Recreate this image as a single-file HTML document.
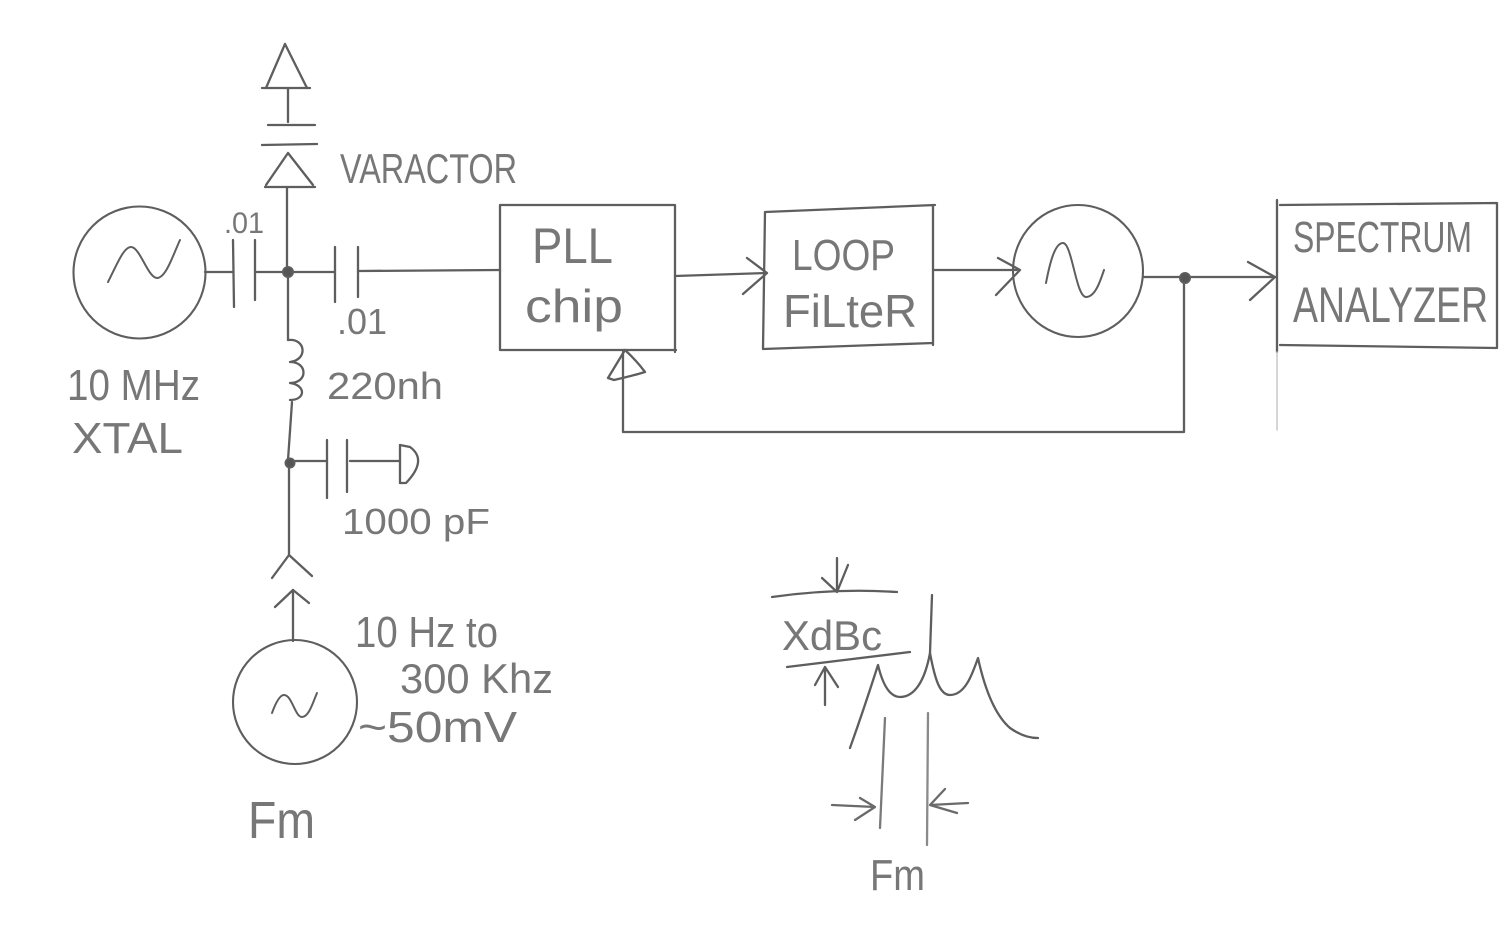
<!DOCTYPE html>
<html>
<head>
<meta charset="utf-8">
<style>
html,body{margin:0;padding:0;background:#fff;}
svg{display:block;}
text{font-family:"Liberation Sans","DejaVu Sans",sans-serif;fill:#777;}
</style>
</head>
<body>
<svg width="1509" height="931" viewBox="0 0 1509 931" xmlns="http://www.w3.org/2000/svg">
<rect width="1509" height="931" fill="#fff"/>
<g fill="none" stroke="#5e5e5e" stroke-width="2.3" stroke-linecap="round" stroke-linejoin="round">
  <!-- Top varactor -->
  <path d="M285,44 L266,88 M285,44 L307,88"/>
  <path d="M262,88 L310,88"/>
  <path d="M288,88 L288,122"/>
  <path d="M268,125 L315,125"/>
  <path d="M262,145 L317,144"/>
  <path d="M288,153 L266,185 M288,153 L313,185"/>
  <path d="M265,187 L315,187"/>
  <path d="M287,187 L287,268"/>

  <!-- XTAL oscillator -->
  <circle cx="139.5" cy="272.5" r="66" stroke-width="2.1"/>
  <path d="M108,282 C118,262 124,247 131,247 C140,247 148,278 157,278 C166,278 173,255 180,240" stroke-width="2"/>

  <!-- left coupling cap -->
  <path d="M205,272 L233,272"/>
  <path d="M233,240 L234,307"/>
  <path d="M255,240 L255,300"/>
  <path d="M255,272 L284,272"/>
  <circle cx="288" cy="272" r="5" fill="#555" stroke-width="2"/>

  <!-- right coupling cap -->
  <path d="M292,272 L335,272"/>
  <path d="M335,247 L335,302"/>
  <path d="M358,247 L358,297"/>
  <path d="M358,271 L500,270"/>

  <!-- inductor -->
  <path d="M288,277 L288,340"/>
  <path d="M288,340 C306,338 308,360 290,362 C308,362 308,383 290,383 C306,385 306,400 290,400"/>
  <path d="M292,402 L288,460"/>
  <circle cx="290" cy="463" r="4.5" fill="#555" stroke-width="2"/>

  <!-- 1000pF cap to ground -->
  <path d="M294,461 L327,461"/>
  <path d="M327,440 L327,498"/>
  <path d="M347,440 L347,492"/>
  <path d="M350,461 L400,461"/>
  <path d="M400,445 L400,483"/>
  <path d="M400,445 L410,447 Q428,460 406,483 L400,483"/>

  <!-- wire down to connector -->
  <path d="M289,468 L289,555"/>
  <path d="M289,555 L272,578 M289,555 L312,576"/>

  <!-- Fm source -->
  <path d="M293,590 L293,641"/>
  <path d="M293,590 L275,607 M293,590 L309,603"/>
  <circle cx="295" cy="702" r="62" stroke-width="2.1"/>
  <path d="M272,713 C276,702 280,695 284,695 C292,695 295,717 302,717 C309,717 313,702 317,693" stroke-width="2"/>

  <!-- PLL chip box -->
  <path d="M500,205 L675,205 M500,205 L500,350 M500,350 L676,350 M675,205 L675,352"/>

  <!-- PLL -> Loop filter -->
  <path d="M675,276 L766,273"/>
  <path d="M747,258 L767,273 L743,294"/>

  <!-- Loop filter box -->
  <path d="M765,212 L935,205 M765,212 L763,349 M763,349 L933,343 M933,205 L933,345"/>

  <!-- LF -> VCO -->
  <path d="M933,270 L1017,270"/>
  <path d="M998,258 L1020,270 L996,295"/>

  <!-- VCO -->
  <ellipse cx="1078" cy="271" rx="65" ry="66" stroke-width="2.1"/>
  <path d="M1046,283 C1050,262 1055,243 1063,243 C1072,243 1076,297 1086,297 C1095,297 1100,282 1104,270" stroke-width="2"/>

  <!-- VCO -> SA -->
  <path d="M1143,277 L1180,277 M1190,277 L1275,277"/>
  <circle cx="1185" cy="278" r="5" fill="#555" stroke-width="2"/>
  <path d="M1248,262 L1275,277 L1250,300"/>

  <!-- Spectrum analyzer box -->
  <path d="M1277,200 L1277,352"/>
  <path d="M1277,352 L1277,430" stroke="#c8c8c8" stroke-width="1.5"/>
  <path d="M1280,205 L1497,203 M1497,203 L1497,348 M1280,345 L1497,348"/>

  <!-- feedback -->
  <path d="M1184,283 L1184,432 L623,432 L623,352"/>
  <path d="M625,350 L608,378 L614,380 Q632,376 645,372 Q636,360 625,350"/>

  <!-- Spectrum sketch -->
  <path d="M772,597 Q835,588 897,592"/>
  <path d="M837,558 L837,592 M822,578 L837,592 L848,565"/>
  <path d="M787,667 L910,652"/>
  <path d="M825,705 L825,667 M815,685 L825,667 L838,687"/>
  <path d="M850,748 C860,720 870,690 878,665 C884,690 892,697 900,697 C915,697 925,680 930,653 C935,680 940,695 950,695 C965,695 972,675 978,658 C985,690 995,715 1010,728 C1020,735 1030,738 1038,738"/>
  <path d="M932,595 L930,653"/>
  <path d="M885,718 L880,828" stroke="#7a7a7a"/>
  <path d="M928,713 L927,845" stroke="#8a8a8a"/>
  <path d="M832,805 L875,807 M860,798 L875,807 L855,820" stroke="#6a6a6a"/>
  <path d="M968,803 L930,805 M945,789 L930,805 L957,813" stroke="#6a6a6a"/>
</g>

<!-- labels -->
<text x="340" y="183" font-size="42" textLength="177" lengthAdjust="spacingAndGlyphs">VARACTOR</text>
<text x="224" y="233" font-size="30" textLength="40" lengthAdjust="spacingAndGlyphs">.01</text>
<text x="337" y="334" font-size="36" textLength="50" lengthAdjust="spacingAndGlyphs">.01</text>
<text x="67" y="400" font-size="44" textLength="133" lengthAdjust="spacingAndGlyphs">10 MHz</text>
<text x="72" y="453" font-size="44" textLength="111" lengthAdjust="spacingAndGlyphs">XTAL</text>
<text x="327" y="399" font-size="38" textLength="116" lengthAdjust="spacingAndGlyphs">220nh</text>
<text x="342" y="534" font-size="36" textLength="148" lengthAdjust="spacingAndGlyphs">1000 pF</text>
<text x="355" y="647" font-size="44" textLength="143" lengthAdjust="spacingAndGlyphs">10 Hz to</text>
<text x="400" y="693" font-size="42" textLength="153" lengthAdjust="spacingAndGlyphs">300 Khz</text>
<text x="358" y="742" font-size="44" textLength="159" lengthAdjust="spacingAndGlyphs">~50mV</text>
<text x="248" y="838" font-size="52" textLength="67" lengthAdjust="spacingAndGlyphs">Fm</text>
<text x="532" y="263" font-size="50" textLength="81" lengthAdjust="spacingAndGlyphs">PLL</text>
<text x="525" y="322" font-size="46" textLength="98" lengthAdjust="spacingAndGlyphs">chip</text>
<text x="792" y="270" font-size="44" textLength="103" lengthAdjust="spacingAndGlyphs">LOOP</text>
<text x="783" y="327" font-size="46" textLength="134" lengthAdjust="spacingAndGlyphs">FiLteR</text>
<text x="1293" y="252" font-size="44" textLength="179" lengthAdjust="spacingAndGlyphs">SPECTRUM</text>
<text x="1293" y="322" font-size="50" textLength="195" lengthAdjust="spacingAndGlyphs">ANALYZER</text>
<text x="782" y="650" font-size="42" textLength="100" lengthAdjust="spacingAndGlyphs">XdBc</text>
<text x="870" y="890" font-size="44" textLength="55" lengthAdjust="spacingAndGlyphs">Fm</text>
</svg>
</body>
</html>
